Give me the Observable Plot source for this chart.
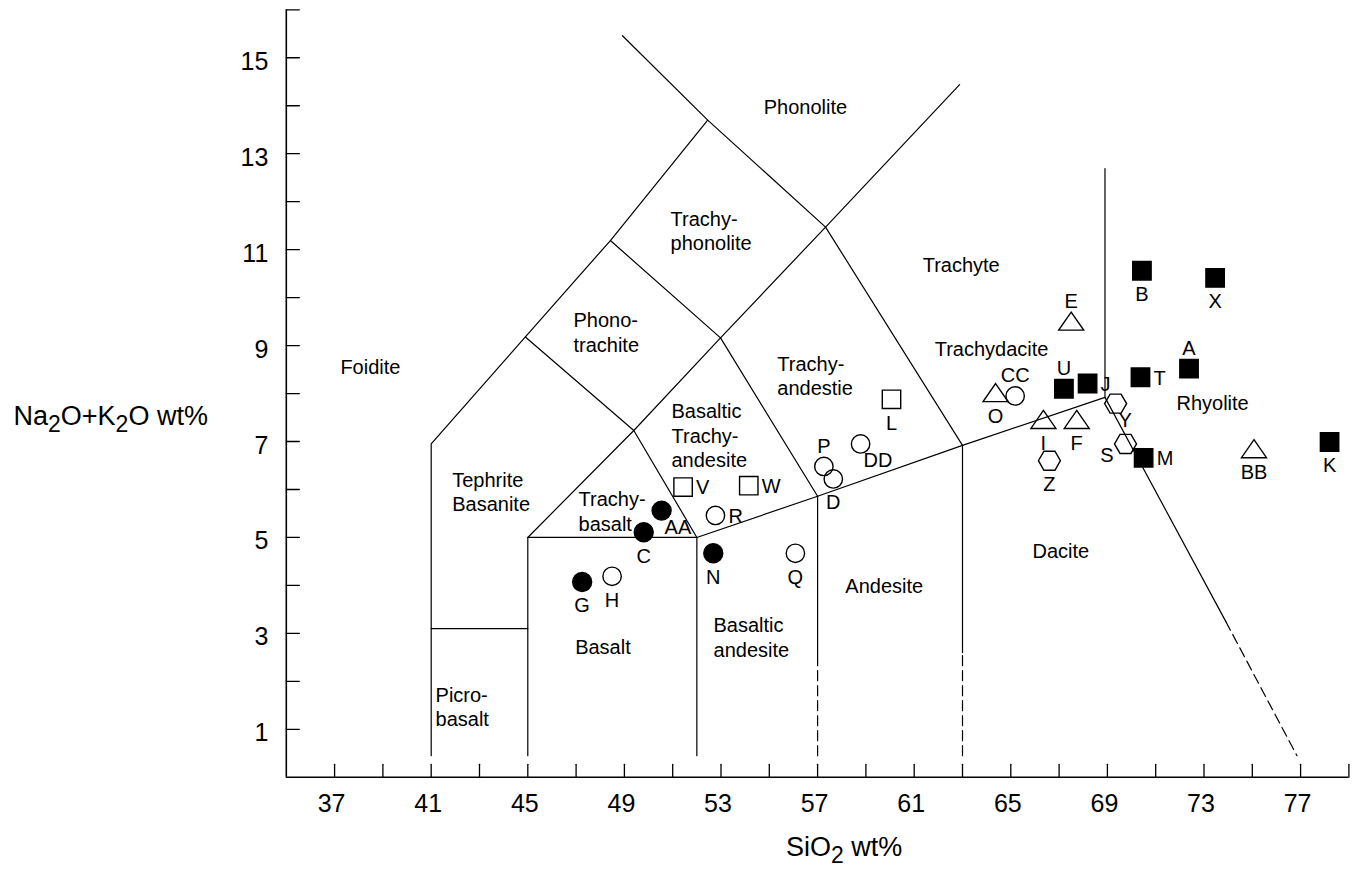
<!DOCTYPE html>
<html>
<head>
<meta charset="utf-8">
<script src="https://cdn.jsdelivr.net/npm/d3@7"></script>
<script src="https://cdn.jsdelivr.net/npm/@observablehq/plot@0.6"></script>
<style>
  html, body { margin: 0; padding: 0; background: #fff; }
  #chart svg { display: block; }
</style>
</head>
<body>
<div id="chart"></div>
<script>
// ---------------- DATA ----------------
const sampleIds   = ["A","B","C","D","E","F","G","H","I","J","K","L","M","N","O","P","Q","R","S","T","U","V","W","X","Y","Z","AA","BB","CC","DD"];
const sampleSiO2  = [72.38,70.43,49.80,57.65,67.50,67.73,47.25,48.49,66.35,68.18,78.20,60.06,70.50,52.68,64.37,57.26,56.08,52.77,69.75,70.37,67.20,51.43,54.15,73.46,69.34,66.60,50.54,75.07,65.18,58.78];
const sampleAlk   = [8.52,10.56,5.11,6.22,9.51,7.46,4.07,4.19,7.46,8.21,6.99,7.88,6.66,4.67,8.02,6.48,4.67,5.46,6.95,8.34,8.10,6.05,6.08,10.41,7.79,6.60,5.56,6.85,7.95,6.95];
const sampleGroup = ["filled square","filled square","filled circle","open circle","open triangle","open triangle","filled circle","open circle","open triangle","filled square","filled square","open square","filled square","filled circle","open triangle","open circle","open circle","open circle","open hexagon","filled square","filled square","open square","open square","filled square","open hexagon","open hexagon","filled circle","open triangle","open circle","open circle"];
// where each sample label sits relative to its symbol (b=below, a=above, r=right, br=below right, bl=below left)
const labelSide   = ["a","b","b","b","a","b","b","b","b","r","b","b","r","b","b","a","b","r","bl","r","a","r","r","b","br","b","br","b","a","br"];

// TAS field names and label anchor (SiO2, Na2O+K2O)
const regionNames = ["Foidite","Tephrite\nBasanite","Picro-\nbasalt","Basalt","Trachy-\nbasalt","Basaltic\nandesite","Basaltic\nTrachy-\nandesite","Phono-\ntrachite","Trachy-\nphonolite","Phonolite","Trachy-\nandestie","Andesite","Dacite","Trachyte","Trachydacite","Rhyolite"];
const regionSiO2  = [37.24,41.87,41.18,46.96,47.10,52.69,50.95,46.89,50.91,54.77,55.33,58.15,65.90,61.35,61.85,71.86];
const regionAlk   = [8.58,5.97,1.48,2.74,5.56,2.93,7.14,9.29,11.40,14.00,8.38,4.00,4.73,10.69,8.94,7.81];

// field boundaries (SiO2, Na2O+K2O)
const solidBoundaries = [
  [[41,0.45],[41,6.95],[44.9,9.18],[48.42,11.19],[52.45,13.7]],
  [[48.92,15.46],[52.45,13.7],[57.33,11.47],[63,6.92]],
  [[45,0.45],[45,5],[49.39,7.23],[52.98,9.16],[57.33,11.47],[62.88,14.44]],
  [[52,0.45],[52,5],[57,5.86],[63,6.92],[68.9,7.92],[68.9,12.69]],
  [[45,5],[52,5]],
  [[41,3.1],[45,3.1]],
  [[49.39,7.23],[52,5]],
  [[44.9,9.18],[49.39,7.23]],
  [[48.42,11.19],[52.98,9.16]],
  [[52.98,9.16],[57,5.86]],
  [[57,2.4],[57,5.86]],
  [[63,2.6],[63,6.92]],
  [[68.9,7.92],[73.9,3.25]]
];
const dashedBoundaries = [
  [[57,0.45],[57,2.4]],
  [[63,0.45],[63,2.6]],
  [[73.9,3.25],[76.85,0.45]]
];

// axis ticks and tick labels
const xTickValues  = [37,39,41,43,45,47,49,51,53,55,57,59,61,63,65,67,69,71,73,75,77,79];
const xLabelValues = [37,41,45,49,53,57,61,65,69,73,77];
const yTickValues  = [1,2,3,4,5,6,7,8,9,10,11,12,13,14,15,16];
const yLabelValues = [1,3,5,7,9,11,13,15];
const xTitle = "SiO2 wt%";
const yTitle = "Na2O+K2O wt%";

// ---------------- BUILD ----------------
const samples = sampleIds.map((id, i) => ({id, sio2: sampleSiO2[i], alk: sampleAlk[i], group: sampleGroup[i], side: labelSide[i]}));
const regions = regionNames.map((name, i) => ({name, sio2: regionSiO2[i], alk: regionAlk[i]}));
const toPts = segs => segs.flatMap((seg, i) => seg.map(([x, y]) => ({x, y, seg: i})));

const boxSymbol = {draw(ctx, size) { const r = Math.sqrt(size / Math.PI); ctx.rect(-r, -r, 2 * r, 2 * r); }};
const triSymbol = {draw(ctx, size) { const r = Math.sqrt(size / Math.PI), h = 0.72 * r; ctx.moveTo(0, -h); ctx.lineTo(r, h); ctx.lineTo(-r, h); ctx.closePath(); }};
const hexSymbol = {draw(ctx, size) {
  const r = Math.sqrt(size / Math.PI), h = r * Math.sqrt(3) / 2;
  ctx.moveTo(r, 0); ctx.lineTo(r / 2, h); ctx.lineTo(-r / 2, h); ctx.lineTo(-r, 0); ctx.lineTo(-r / 2, -h); ctx.lineTo(r / 2, -h); ctx.closePath();
}};
const groupStyle = {
  "filled circle": {symbol: "circle", r: 9.5, fill: "#000"},
  "open circle":   {symbol: "circle", r: 9.2, fill: "none"},
  "open square":   {symbol: boxSymbol, r: 9.2, fill: "none"},
  "filled square": {symbol: boxSymbol, r: 9.2, fill: "#000"},
  "open triangle": {symbol: triSymbol, r: 12.5, fill: "none"},
  "open hexagon":  {symbol: hexSymbol, r: 11, fill: "none"}
};
const sideStyle = {
  b:  {dx: 0,   dy: 24,  textAnchor: "middle"},
  a:  {dx: 0,   dy: -20, textAnchor: "middle"},
  r:  {dx: 13,  dy: 1,   textAnchor: "start"},
  br: {dx: 3,   dy: 17,  textAnchor: "start"},
  bl: {dx: -12, dy: 12,  textAnchor: "end"}
};
const tickShape = {draw(ctx, l) { ctx.moveTo(0, 0); ctx.lineTo(0, -l); }};

const W = 1353, H = 874;
const plot = Plot.plot({
  width: W, height: H,
  marginLeft: 285.8, marginRight: W - 1348.4, marginTop: 9.3, marginBottom: H - 776.8,
  x: {domain: [35, 79], axis: null},
  y: {domain: [0, 16], axis: null},
  style: {fontFamily: "'Liberation Sans', Arial, Helvetica, sans-serif", color: "#000", background: "#fff", overflow: "visible"},
  marks: [
    Plot.line(toPts(solidBoundaries), {x: "x", y: "y", z: "seg", stroke: "#000", strokeWidth: 1.2}),
    Plot.line(toPts(dashedBoundaries), {x: "x", y: "y", z: "seg", stroke: "#000", strokeWidth: 1.2, strokeDasharray: "10,5"}),
    Plot.ruleX([35], {stroke: "#000", strokeWidth: 1.6}),
    Plot.ruleY([0], {stroke: "#000", strokeWidth: 1.6}),
    Plot.vector(xTickValues, {x: d => d, y: () => 0, length: 13, rotate: 0, anchor: "start", shape: tickShape, stroke: "#000", strokeWidth: 1.3}),
    Plot.vector(yTickValues, {x: () => 35, y: d => d, length: 13, rotate: 90, anchor: "start", shape: tickShape, stroke: "#000", strokeWidth: 1.3}),
    Plot.text(xLabelValues, {x: d => d, y: () => 0, text: d => String(d), dy: 27, dx: -3, fontSize: 25}),
    Plot.text(yLabelValues, {x: () => 35, y: d => d, text: d => String(d), dx: -18, dy: 4, textAnchor: "end", fontSize: 25}),
    Plot.text([yTitle], {text: d => d, frameAnchor: "left", dx: -272.8, dy: 23, textAnchor: "start", fontSize: 27}),
    Plot.text([xTitle], {text: d => d, frameAnchor: "bottom", dx: -31.6, dy: 78.7, textAnchor: "start", fontSize: 27}),
    Plot.text(regions, {x: "sio2", y: "alk", text: "name", textAnchor: "start", lineHeight: 1.22, fontSize: 20}),
    ...Object.entries(groupStyle).map(([g, s]) => Plot.dot(samples.filter(d => d.group === g), {x: "sio2", y: "alk", ...s, stroke: "#000", strokeWidth: 1.4})),
    ...Object.entries(sideStyle).map(([k, s]) => Plot.text(samples.filter(d => d.side === k), {x: "sio2", y: "alk", text: "id", fontSize: 20, ...s}))
  ]
});

// subscripts in the axis titles
d3.select(plot).selectAll("text").each(function() {
  const s = this.textContent;
  if (s !== xTitle && s !== yTitle) return;
  const parts = s.split(/(2)/);
  const el = d3.select(this);
  this.textContent = "";
  let lowered = false;
  parts.forEach(p => {
    if (p === "") return;
    const t = el.append("tspan").text(p);
    if (p === "2") { t.attr("dy", 7).attr("font-size", 23); lowered = true; }
    else if (lowered) { t.attr("dy", -7); lowered = false; }
  });
});

document.getElementById("chart").appendChild(plot);
</script>
</body>
</html>
